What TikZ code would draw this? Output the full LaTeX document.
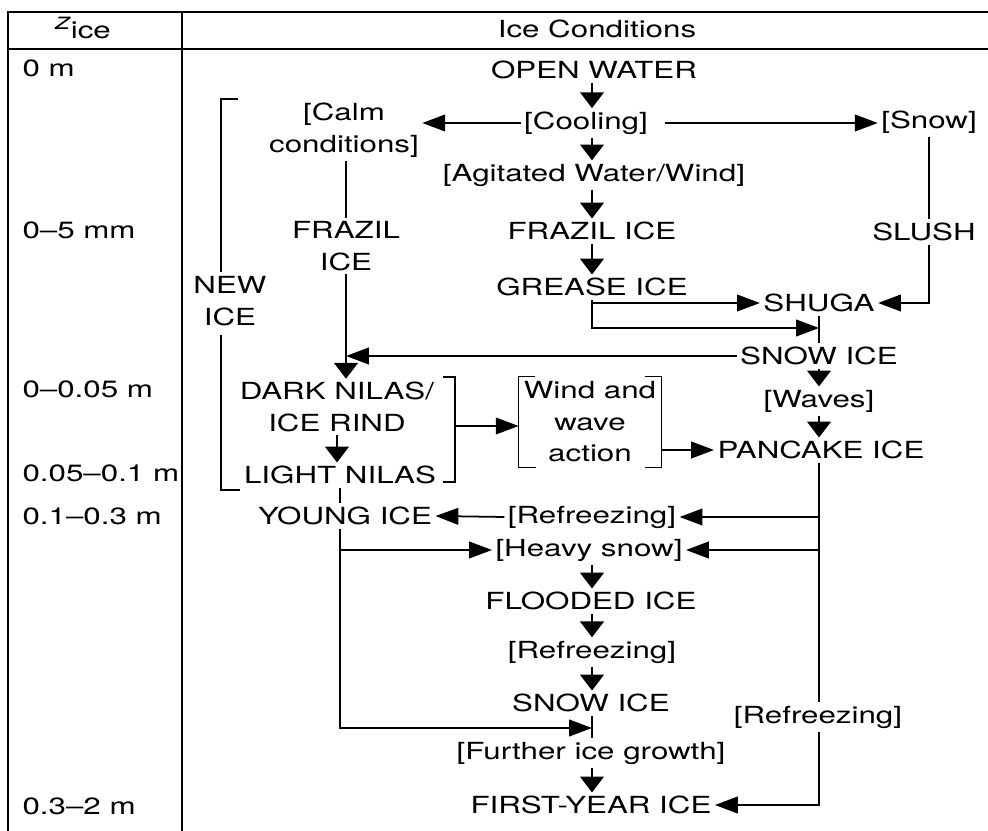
\documentclass[tikz,border=0pt]{standalone}
\usepackage{fontspec}
\setmainfont{TeX Gyre Heros}[FakeStretch=1.33]
\usepackage{tikz}
\usetikzlibrary{arrows.meta}

\begin{document}
\begin{tikzpicture}[x=0.02cm, y=-0.02cm, line width=1pt,
  font=\fontsize{13.4}{17.9}\selectfont,
  lbl/.style={inner sep=2pt, outer sep=0pt},
  multi/.style={align=center, inner sep=2pt, outer sep=0pt},
  harr/.style={-{Triangle[length=13pt,width=9.5pt]}},
  varr/.style={-{Triangle[length=9pt,width=13.5pt]}}]
\useasboundingbox (0,0) rectangle (988,831);

% table frame
\draw (8,831) -- (8,12) -- (988,12);
\draw (8,49) -- (988,49);
\draw (182,12) -- (182,831);
\node[lbl] (hz) at (83,28) {\raisebox{5.5pt}{\itshape z}ice};
\node[lbl] (hcond) at (597,29) {Ice Conditions};

\foreach \y/\depth in {68/0 m, 230/0--5 mm, 389/0--0.05 m, 473/0.05--0.1 m, 516/0.1--0.3 m, 806/0.3--2 m} {
  \node[lbl, anchor=west] (dep\y) at (19,\y) {\depth};
}

% main column
\node[lbl] (ow) at (594,70) {OPEN WATER};
\node[lbl] (cool) at (586,123) {[Cooling]};
\node[lbl] (agit) at (594,175) {[Agitated Water/Wind]};
\node[lbl] (fraz) at (592,231) {FRAZIL ICE};
\node[lbl] (grease) at (592,287) {GREASE ICE};
\node[multi] (calm) at (344,130) {[Calm\\conditions]};
\node[lbl] (snow) at (929,122) {[Snow]};
\node[lbl] (slush) at (924,232) {SLUSH};
\node[lbl] (shuga) at (819,303) {SHUGA};
\node[lbl] (snowice1) at (819,356) {SNOW ICE};
\node[lbl] (waves) at (819,401) {[Waves]};
\node[lbl] (pancake) at (821,450) {PANCAKE ICE};
\node[multi] (frazil2) at (346,246) {FRAZIL\\ICE};
\node[multi] (newice) at (230,301) {NEW\\ICE};
\node[multi] (darknilas) at (337,407) {DARK NILAS/\\ICE RIND};
\node[lbl] (lightnilas) at (340,475) {LIGHT NILAS};
\node[multi, inner sep=3pt] (wind) at (590,422) {Wind and\\wave\\action};
\node[lbl] (young) at (345,516) {YOUNG ICE};
\node[lbl] (refr1) at (592,517) {[Refreezing]};
\node[lbl] (heavy) at (589,550) {[Heavy snow]};
\node[lbl] (flooded) at (591,601) {FLOODED ICE};
\node[lbl] (refr2) at (592,652) {[Refreezing]};
\node[lbl] (snowice2) at (591,703) {SNOW ICE};
\node[lbl] (further) at (591,753) {[Further ice growth]};
\node[lbl] (fyi) at (591,805) {FIRST-YEAR ICE};
\node[lbl] (refr3) at (818,717) {[Refreezing]};

\coordinate (jshuga) at (819,328);
\coordinate (nilasbr) at (455,426);
\coordinate (jsnow) at (592,728);

% brackets
\draw (238,99) -- (221,99) -- (221,272);
\draw (221,335) -- (221,490) -- (240,490);
\draw (443,377) -- (455,377) -- (455,482) -- (443,482);
\draw ([xshift=9.5pt]wind.north west) -| (wind.south west) -- ++(10pt,0);
\draw ([xshift=-9.5pt]wind.north east) -| (wind.south east) -- ++(-9.5pt,0);

% top part
\draw[varr] (fraz |- ow.south) -- (fraz |- cool.north);
\draw[varr] (fraz |- cool.south) -- (fraz |- agit.north);
\draw[varr] (fraz |- agit.south) -- (fraz.north);
\draw[varr] (fraz.south) -- (fraz.south |- grease.north);
\draw[harr] (cool.west) -- (cool.west -| calm.east);
\draw[harr, shorten <=8pt] (cool.east) -- (cool.east -| snow.west);
\draw (snow.south) -- (snow.south |- slush.north);
\draw[harr] (snow.south |- slush.south) |- (shuga.east);
\draw[harr] (grease.south) |- (shuga.west);
\draw[harr] (grease.south) |- (jshuga);
\draw (shuga.south) -- (snowice1.north);
\draw[harr] (snowice1.west) -- (snowice1.west -| frazil2);
\draw (frazil2 |- calm.south) -- (frazil2.north);
\draw[varr] (frazil2.south) -- (frazil2.south |- darknilas.north);
\draw[varr] (snowice1.south) -- (waves.north);
\draw[varr] (waves.south) -- (waves.south |- pancake.north);

% nilas and pancake
\draw[varr] (darknilas.south) -- (darknilas.south |- lightnilas.north);
\draw (lightnilas.south) -- (lightnilas.south |- young.north);
\draw[harr] (nilasbr) -- (nilasbr -| wind.west);
\draw[harr] (wind.east |- pancake) -- (pancake.west);

% right branch
\draw (pancake.south -| shuga) -- (refr3.north -| shuga);
\draw[harr] (refr3.south -| shuga) |- (fyi.east);
\draw[harr] (refr1 -| shuga) -- (refr1.east);
\draw[harr] (heavy -| shuga) -- (heavy.east);
\draw[harr] (refr1.west) -- (young.east);

% left branch
\draw[harr] (young.south -| lightnilas) |- (heavy.west);
\draw[harr] (young.south -| lightnilas) |- (jsnow);

% bottom part
\draw[varr] (fraz |- heavy.south) -- (fraz |- flooded.north);
\draw[varr] (fraz |- flooded.south) -- (fraz |- refr2.north);
\draw[varr] (fraz |- refr2.south) -- (fraz |- snowice2.north);
\draw (fraz |- snowice2.south) -- (fraz |- further.north);
\draw[varr] (fraz |- further.south) -- (fraz |- fyi.north);
\end{tikzpicture}
\end{document}
